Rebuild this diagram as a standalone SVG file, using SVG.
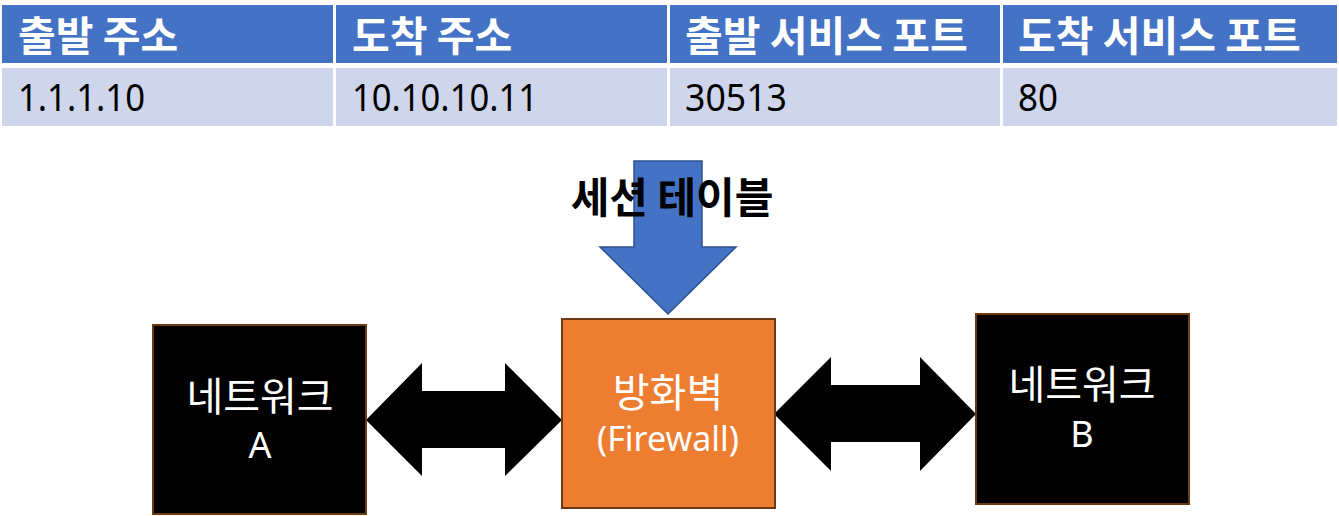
<svg xmlns="http://www.w3.org/2000/svg" width="1339" height="516" viewBox="0 0 1339 516">
<style>
.hd{fill:#4472C4}
.rw{fill:#CFD5EA}
.ht{font-family:"Noto Sans CJK KR","Noto Sans",sans-serif;font-weight:bold;font-size:41px;fill:#fff}
.rt{font-family:"Noto Sans","Noto Sans CJK KR",sans-serif;font-size:39px;fill:#000}
.kt{font-family:"Noto Sans CJK KR","Noto Sans",sans-serif;font-size:40px;fill:#fff;text-anchor:middle}
.lt{font-family:"Noto Sans","Noto Sans CJK KR",sans-serif;font-size:36px;fill:#fff;text-anchor:middle}
.net{fill:#000;stroke:#6B3A10;stroke-width:2}
.arr{fill:#000}
</style>
<rect width="1339" height="516" fill="#fff"/>
<g id="table">
<rect class="hd" x="2" y="5" width="331" height="58"/>
<rect class="hd" x="336" y="5" width="331" height="58"/>
<rect class="hd" x="670" y="5" width="330" height="58"/>
<rect class="hd" x="1003" y="5" width="334" height="58"/>
<rect class="rw" x="2" y="68" width="331" height="58"/>
<rect class="rw" x="336" y="68" width="331" height="58"/>
<rect class="rw" x="670" y="68" width="330" height="58"/>
<rect class="rw" x="1003" y="68" width="334" height="58"/>
<text class="ht" x="18" y="51">출발 주소</text>
<text class="ht" x="352" y="51">도착 주소</text>
<text class="ht" x="685" y="51">출발 서비스 포트</text>
<text class="ht" x="1018" y="51">도착 서비스 포트</text>
<text class="rt" x="18" y="111" textLength="127" lengthAdjust="spacingAndGlyphs">1.1.1.10</text>
<text class="rt" x="352" y="111" textLength="186" lengthAdjust="spacingAndGlyphs">10.10.10.11</text>
<text class="rt" x="685" y="111" textLength="102" lengthAdjust="spacingAndGlyphs">30513</text>
<text class="rt" x="1018" y="111" textLength="40" lengthAdjust="spacingAndGlyphs">80</text>
</g>
<g id="session-arrow">
<path d="M634,161 H702 V247 H736 L668,314 L600,247 H634 Z" fill="#4472C4" stroke="#2F528F" stroke-width="1.5"/>
<text x="672" y="213" font-family="'Noto Sans CJK KR',sans-serif" font-weight="bold" font-size="42" text-anchor="middle" fill="#000">세션 테이블</text>
</g>
<g id="connectors">
<path class="arr" d="M366,420 L422,363 V391 H505 V363 L562,420 L505,476 V448 H422 V476 Z"/>
<path class="arr" d="M774,414 L831,357 V385 H920 V357 L976,414 L920,471 V442 H831 V471 Z"/>
</g>
<g id="firewall">
<rect x="562" y="319" width="213" height="189" fill="#ED7D31" stroke="#6B3A10" stroke-width="2"/>
<text class="kt" x="668" y="407">방화벽</text>
<text class="lt" x="668" y="451" style="font-size:34px">(Firewall)</text>
</g>
<g id="network-a">
<rect class="net" x="153" y="325" width="213" height="189"/>
<text class="kt" x="260" y="411">네트워크</text>
<text class="lt" x="260" y="458">A</text>
</g>
<g id="network-b">
<rect class="net" x="976" y="314" width="213" height="190"/>
<text class="kt" x="1082" y="399">네트워크</text>
<text class="lt" x="1082" y="447">B</text>
</g>
</svg>
